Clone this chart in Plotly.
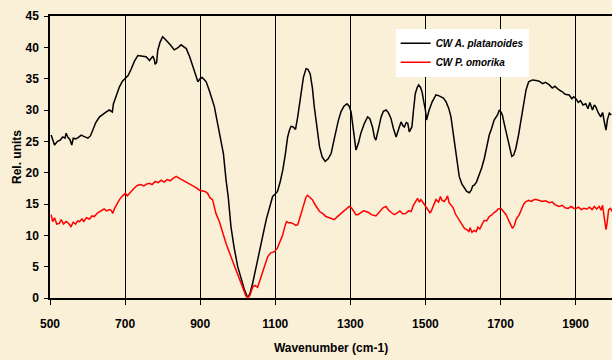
import plotly.graph_objects as go

# Spectra: wavenumber (cm-1) and relative absorbance
wn_platanoides = [503, 508, 512, 520, 527, 534, 540, 543, 548, 553, 558, 562, 568, 575, 583, 590, 601, 608, 614, 622,
                  632, 640, 650, 658, 666, 669, 677, 685, 693, 701, 708, 716, 725, 734, 745, 756, 765, 770, 774, 778,
                  780, 784, 787, 793, 800, 807, 814, 822, 831, 840, 849, 856, 863, 872, 880, 888, 894, 900, 905, 910,
                  916, 925, 933, 938, 944, 951, 956, 962, 969, 975, 982, 990, 1000, 1010, 1018, 1027, 1033, 1040, 1048, 1058,
                  1066, 1076, 1085, 1093, 1100, 1106, 1113, 1120, 1127, 1133, 1138, 1142, 1148, 1154, 1160, 1169, 1175, 1182, 1187, 1193,
                  1199, 1204, 1211, 1218, 1225, 1233, 1241, 1249, 1255, 1262, 1268, 1275, 1283, 1291, 1297, 1302, 1308, 1315, 1322, 1328,
                  1337, 1346, 1352, 1359, 1364, 1368, 1375, 1382, 1388, 1395, 1401, 1408, 1415, 1422, 1428, 1435, 1440, 1444, 1449, 1453,
                  1457, 1461, 1464, 1468, 1473, 1478, 1482, 1487, 1491, 1496, 1500, 1503, 1506, 1510, 1518, 1528, 1535, 1542, 1548, 1555,
                  1562, 1568, 1575, 1581, 1586, 1590, 1597, 1604, 1610, 1617, 1622, 1626, 1630, 1636, 1643, 1650, 1657, 1663, 1670, 1676,
                  1683, 1692, 1697, 1701, 1705, 1710, 1715, 1719, 1725, 1730, 1735, 1741, 1748, 1755, 1762, 1768, 1775, 1785, 1795, 1803,
                  1812, 1820, 1830, 1838, 1845, 1856, 1865, 1872, 1883, 1890, 1895, 1901, 1907, 1913, 1920, 1927, 1933, 1938, 1945, 1950,
                  1954, 1960, 1967, 1972, 1977, 1981, 1985, 1990, 1995]
val_platanoides = [26.0, 25.0, 24.4, 25.0, 25.2, 25.7, 25.5, 26.3, 25.6, 25.3, 24.4, 25.5, 25.4, 25.6, 26.0, 25.8, 25.5, 25.9, 26.8, 28.0,
                   28.9, 29.3, 29.7, 30.0, 29.7, 31.0, 32.4, 33.7, 34.6, 35.0, 35.5, 36.5, 37.8, 38.7, 38.6, 38.5, 37.9, 38.4, 38.6, 38.0,
                   37.3, 37.6, 39.5, 40.8, 41.7, 41.3, 40.9, 40.3, 39.6, 39.9, 40.4, 40.1, 39.8, 38.5, 37.1, 35.5, 34.5, 35.0, 35.2, 34.9,
                   34.5, 33.0, 31.6, 30.5, 28.6, 26.3, 25.2, 23.0, 18.8, 16.0, 11.4, 8.2, 5.0, 2.9, 1.3, 0.0, 0.8, 2.4, 4.5, 7.2,
                   9.7, 12.5, 14.6, 16.2, 16.6, 17.0, 18.5, 20.4, 23.0, 25.7, 26.8, 27.4, 27.3, 26.9, 29.0, 33.2, 35.2, 36.6, 36.5, 35.8,
                   33.5, 30.5, 27.0, 24.1, 22.5, 21.8, 22.2, 23.1, 24.8, 26.8, 28.3, 29.7, 30.6, 31.0, 30.6, 29.7, 26.5, 23.6, 24.8, 26.3,
                   27.8, 28.9, 28.6, 27.3, 25.7, 25.2, 27.0, 28.9, 29.8, 30.0, 29.6, 28.7, 27.0, 25.7, 26.8, 28.1, 27.5, 27.3, 28.0, 27.9,
                   26.5, 26.9, 27.3, 29.8, 32.6, 33.6, 34.0, 33.6, 32.9, 31.2, 30.0, 28.4, 29.2, 30.0, 31.3, 32.4, 32.3, 32.1, 31.9, 31.3,
                   30.3, 28.9, 26.0, 23.1, 21.0, 19.4, 18.2, 17.5, 17.0, 16.8, 17.2, 17.9, 18.0, 18.5, 19.6, 20.8, 22.3, 24.0, 26.0, 27.0,
                   28.4, 29.2, 30.0, 29.7, 29.2, 27.8, 26.5, 25.7, 23.6, 22.6, 22.8, 23.9, 26.0, 28.4, 31.0, 33.2, 34.5, 34.8, 34.7, 34.6,
                   34.2, 34.4, 34.0, 33.5, 33.8, 33.2, 32.9, 32.5, 32.4, 31.8, 32.1, 31.8, 31.2, 31.5, 30.8, 31.0, 30.2, 31.2, 30.0, 30.8,
                   30.5, 29.6, 28.9, 29.6, 28.0, 26.8, 28.5, 29.5, 29.2]

wn_omorika = [503, 507, 512, 518, 525, 530, 536, 543, 548, 556, 562, 568, 574, 579, 585, 590, 597, 605, 612, 618,
              627, 636, 644, 651, 658, 663, 667, 672, 678, 685, 693, 701, 706, 712, 720, 727, 734, 742, 750, 758,
              765, 772, 780, 788, 796, 804, 812, 820, 828, 836, 845, 854, 863, 872, 880, 889, 898, 905, 913, 920,
              926, 933, 942, 951, 960, 969, 982, 993, 1005, 1014, 1022, 1027, 1033, 1040, 1046, 1053, 1060, 1067, 1073, 1080,
              1088, 1098, 1106, 1113, 1120, 1126, 1130, 1136, 1142, 1150, 1155, 1160, 1165, 1169, 1176, 1182, 1186, 1192, 1199, 1205,
              1212, 1218, 1226, 1235, 1244, 1250, 1257, 1264, 1272, 1280, 1288, 1297, 1303, 1309, 1315, 1320, 1328, 1335, 1342, 1350,
              1356, 1362, 1368, 1374, 1380, 1387, 1395, 1402, 1410, 1417, 1425, 1432, 1440, 1448, 1455, 1462, 1468, 1474, 1479, 1484,
              1488, 1494, 1501, 1507, 1512, 1515, 1520, 1528, 1535, 1540, 1544, 1550, 1555, 1559, 1563, 1568, 1574, 1580, 1586, 1590,
              1596, 1604, 1610, 1616, 1619, 1624, 1630, 1635, 1640, 1645, 1652, 1657, 1663, 1670, 1676, 1682, 1688, 1694, 1701, 1706,
              1711, 1715, 1720, 1726, 1732, 1737, 1742, 1750, 1756, 1762, 1768, 1775, 1782, 1790, 1795, 1803, 1812, 1820, 1830, 1838,
              1845, 1856, 1864, 1872, 1880, 1888, 1896, 1901, 1908, 1915, 1922, 1930, 1937, 1944, 1950, 1956, 1963, 1968, 1972, 1976,
              1981, 1984, 1988, 1993, 1997]
val_omorika = [13.3, 12.2, 12.8, 11.8, 11.9, 12.5, 11.8, 12.2, 12.0, 11.4, 12.1, 11.8, 12.3, 12.2, 12.6, 12.2, 12.8, 12.6, 13.1, 13.0,
               13.6, 13.9, 14.2, 13.9, 14.1, 14.0, 13.5, 14.3, 15.0, 15.7, 16.3, 16.7, 16.3, 16.7, 17.3, 17.7, 18.0, 18.1, 17.9, 18.2,
               18.3, 18.1, 18.6, 18.4, 18.8, 18.5, 18.9, 18.7, 19.1, 19.4, 19.1, 18.8, 18.6, 18.2, 18.0, 17.6, 17.2, 17.1, 17.0, 16.7,
               16.0, 15.7, 13.5, 12.2, 10.4, 8.7, 6.6, 4.8, 2.9, 1.3, 0.3, 0.0, 0.5, 1.8, 2.0, 1.7, 3.0, 4.0, 5.5, 6.6,
               7.2, 7.4, 8.0, 9.0, 10.1, 11.5, 12.2, 12.0, 12.0, 11.8, 11.6, 11.7, 12.8, 13.5, 15.0, 16.1, 16.4, 16.0, 15.7, 15.0,
               14.3, 13.8, 13.5, 13.0, 12.8, 12.6, 12.5, 12.9, 13.3, 13.8, 14.2, 14.6, 14.4, 13.8, 13.3, 13.3, 13.7, 13.9, 13.8, 13.6,
               13.3, 13.2, 13.1, 13.5, 14.0, 14.4, 14.6, 14.0, 13.6, 13.3, 13.6, 13.9, 13.4, 13.5, 13.9, 13.8, 14.8, 15.5, 15.9, 15.3,
               15.7, 15.2, 14.6, 14.0, 13.6, 13.8, 14.6, 15.7, 15.3, 16.2, 15.6, 15.4, 15.8, 16.3, 15.2, 14.8, 14.4, 13.4, 12.8, 12.5,
               11.8, 11.1, 10.9, 10.6, 11.2, 10.5, 10.8, 10.6, 11.3, 11.0, 11.9, 12.4, 12.3, 13.0, 13.2, 13.6, 13.8, 14.2, 14.3, 14.0,
               13.6, 13.3, 12.6, 11.8, 11.1, 11.6, 12.6, 13.3, 14.3, 15.0, 15.4, 15.6, 15.4, 15.7, 15.7, 15.6, 15.4, 15.5, 15.2, 15.3,
               14.9, 14.6, 14.8, 14.4, 14.3, 14.6, 14.3, 14.3, 14.5, 14.1, 14.3, 14.2, 14.5, 14.1, 14.6, 14.2, 14.6, 14.0, 14.8, 13.0,
               10.9, 12.0, 14.1, 14.3, 13.8]

x_ticks = [500, 700, 900, 1100, 1300, 1500, 1700, 1900]
y_ticks = [0, 5, 10, 15, 20, 25, 30, 35, 40, 45]

font_family = "Liberation Sans, Arial, sans-serif"
bg = "#FAEFD7"

fig = go.Figure()
fig.add_trace(go.Scatter(x=wn_platanoides, y=val_platanoides, mode="lines",
                         name="CW A. platanoides", line=dict(color="black", width=1.5)))
fig.add_trace(go.Scatter(x=wn_omorika, y=val_omorika, mode="lines",
                         name="CW P. omorika", line=dict(color="#FF0000", width=1.5)))

fig.update_layout(
    width=612, height=360,
    margin=dict(l=50, r=0, t=16, b=62),
    paper_bgcolor=bg, plot_bgcolor=bg,
    font=dict(family=font_family, color="black"),
    showlegend=True,
    legend=dict(
        x=0.615, y=0.955, xanchor="left", yanchor="top",
        bgcolor="white", borderwidth=0,
        font=dict(size=10, style="italic", weight="bold", family=font_family),
        itemwidth=30, tracegroupgap=0,
    ),
    xaxis=dict(
        range=[500, 1997], tickvals=x_ticks, ticktext=[str(v) for v in x_ticks],
        showgrid=True, gridcolor="black", gridwidth=1,
        showline=True, linecolor="black", linewidth=1.5, mirror=True,
        ticks="outside", ticklen=5, tickcolor="black",
        ticklabelstandoff=9,
        tickfont=dict(size=12, weight="bold"),
        title=dict(text="Wavenumber (cm-1)", font=dict(size=12, weight="bold"), standoff=13),
        zeroline=False,
    ),
    yaxis=dict(
        range=[0, 45], tickvals=y_ticks,
        showgrid=False,
        showline=True, linecolor="black", linewidth=1.5,
        ticks="outside", ticklen=4, tickcolor="black",
        ticklabelstandoff=3,
        tickfont=dict(size=12, weight="bold"),
        title=dict(text="Rel. units", font=dict(size=12, weight="bold"), standoff=1),
        zeroline=False,
    ),
)

fig.write_html("out.html")
